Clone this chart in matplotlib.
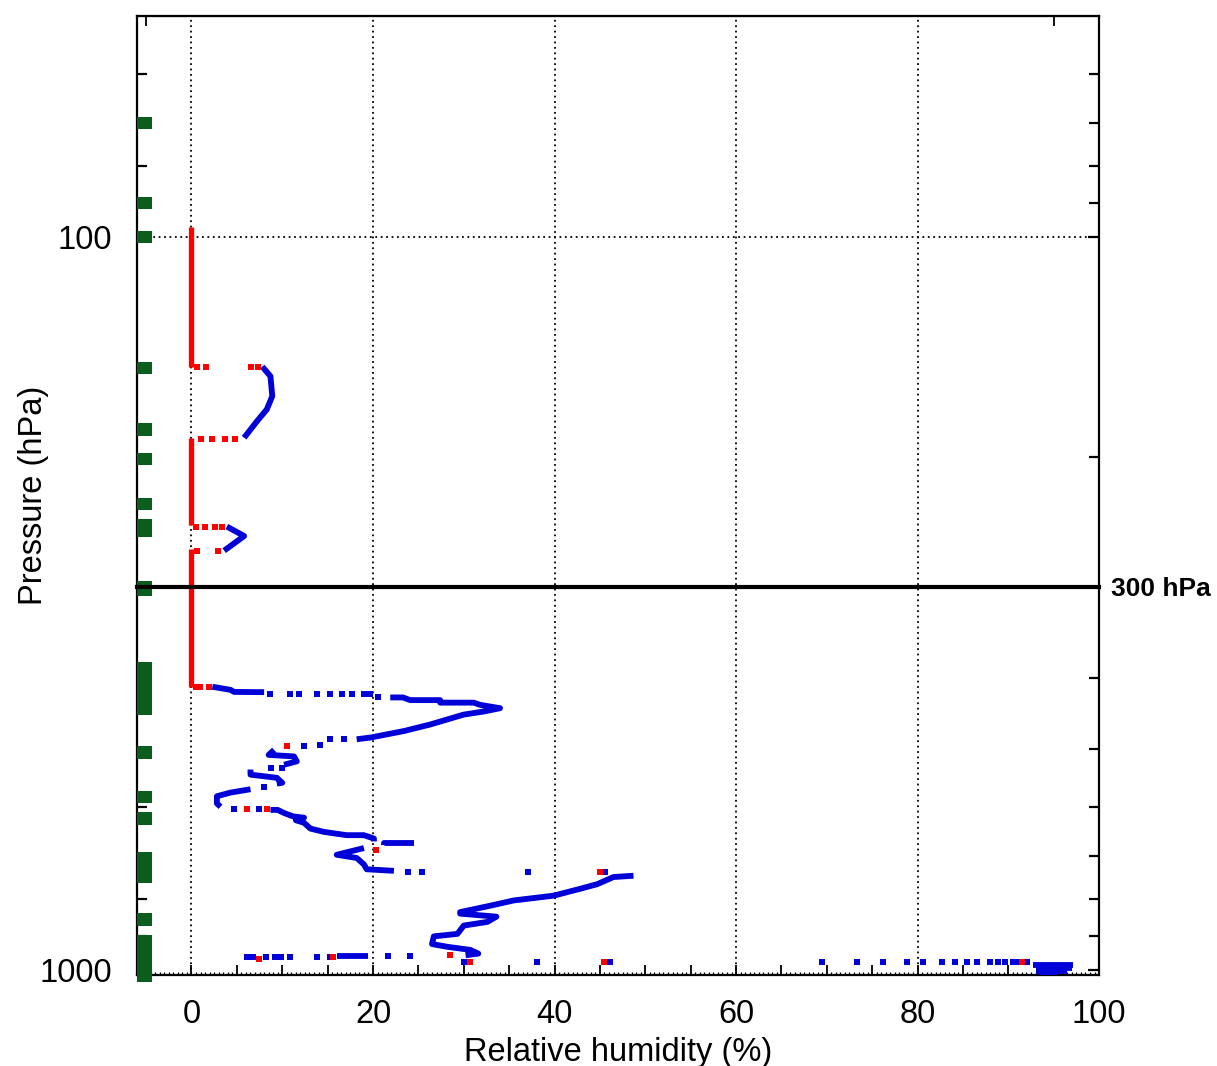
import numpy as np
import matplotlib.pyplot as plt
from matplotlib.ticker import MultipleLocator, FixedLocator, NullFormatter, FuncFormatter
import matplotlib.transforms as mtransforms

plt.rcParams['font.family'] = ['Liberation Sans', 'DejaVu Sans']

# green flag bands on the left edge (hPa, upper and lower end)
flag_top = [68.6, 88.2, 98.1, 148.1, 179.3, 197.1, 227.0, 242.5, 294.7,
            380, 494.8, 570, 609.2, 690.6, 836.4, 895.9]
flag_bot = [71.2, 91.6, 101.9, 153.8, 186.8, 204.6, 235.7, 256.5, 308.8,
            449, 515.2, 591.7, 634.5, 760.9, 871.1, 1038]

# red RH = 0 stretches (hPa)
red_top = [97, 188, 267]
red_bot = [150.4, 247, 411]

# blue profile, solid parts
blue_rh = [
    [7.8, 8.7, 8.9, 8.3, 7.2, 5.8],
    [3.9, 5.8, 3.6],
    [2.3, 4.3, 4.7, 8.0],
    [21.9, 23.3, 24.1, 27.4, 27.4, 31.1, 31.8, 34.0, 32.2, 30.0, 26.3, 23.4, 19.7, 18.2],
    [9.1, 8.5, 11.3, 11.6, 10.2],
    [6.5, 6.5, 9.4, 10.0, 9.4],
    [6.5, 4.3, 2.8, 2.8, 3.2],
    [8.7, 9.5, 10.2, 11.2, 12.4, 11.5, 12.4, 13.1, 14.6, 17.1, 19.0, 20.1, 20.1],
    [21.2, 21.2, 24.5],
    [19.0, 16.0, 18.2, 19.0, 19.3, 22.3],
    [48.7, 46.5, 44.7, 42.5, 39.9, 35.5, 33.0, 29.6, 29.6, 33.6, 32.6, 30.0, 29.3,
     26.7, 26.5, 28.2, 30.7, 31.6, 30.2],
    [16.0, 19.4],
    [92.7, 97.1],
    [93.0, 97.0],
    [93.0, 96.5],
    [93.5, 95.5],
]
blue_p = [
    [150.4, 155, 165, 172, 178.6, 188],
    [248.5, 256, 268],
    [411, 415, 417.7, 418],
    [425, 425, 428.6, 428.6, 432, 432, 435, 439.6, 444.2, 448.5, 462.7, 472.3, 482.1, 484.6],
    [501, 509, 511.5, 519.5, 525],
    [533, 541.6, 547, 555.7, 557],
    [567, 573, 579.6, 593, 599],
    [605, 605, 611, 617.5, 620, 625, 630, 641.6, 648.3, 655, 655, 662, 668],
    [675, 672, 672],
    [682, 696.6, 703.6, 718, 729, 732.6],
    [744, 747, 764, 777, 792, 804, 817, 834, 838, 846, 860, 870, 893,
     900, 922, 930, 939, 950, 955],
    [958, 958],
    [985, 985],
    [994, 994],
    [1003, 1003],
    [1010, 1010],
]

# isolated blue samples
dot_rh = [8.7, 10.9, 11.8, 13.8, 15.3, 16.6, 17.7, 19.0, 19.7, 20.6,
          16.8, 15.3, 14.2, 12.4, 8.8, 10.0, 8.0, 4.7, 7.4,
          23.9, 25.4, 37.1, 45.6,
          6.1, 6.8, 8.2, 9.2, 9.9, 10.8, 13.8, 15.3, 21.6, 24.1,
          30.0, 38.1, 46.1, 69.5, 73.3, 76.2, 78.8, 80.6, 82.7, 84.1, 85.4,
          86.5, 88.0, 88.9, 89.6, 90.5, 91.0, 92.1]
dot_p = [420.6, 420.6, 420.6, 420.6, 420.6, 420.6, 420.6, 420.6, 420.6, 424,
         484, 485, 493, 495.6, 530, 530, 563, 604, 604,
         734.7, 734.7, 734.7, 734.7,
         960, 960, 960, 960, 960, 960, 960, 960, 958, 958,
         974, 974, 974, 974, 974, 974, 974, 974, 974, 974, 974,
         974, 974, 974, 974, 974, 974, 974]

# isolated red samples
red_rh = [0.6, 1.6, 6.6, 7.3, 1.0, 2.3, 3.7, 4.8, 0.5, 1.5, 2.6, 3.4, 0.6, 2.9,
          0.5, 0.9, 1.9, 10.5, 6.1, 8.3, 20.3, 45.0, 28.5, 7.4, 15.6, 30.7, 45.5, 91.5]
red_p = [150.4, 150.4, 150.4, 150.4, 189, 189, 189, 189, 248.5, 248.5, 248.5, 248.5,
         268.3, 268.3, 411, 411, 411, 495.6, 604, 604, 686, 734.7, 953, 965, 960,
         974, 974, 974]

blue = '#0000d8'
red = '#ff0000'
green = '#0b5d1e'

fig = plt.figure(figsize=(12.17, 10.66), dpi=100)
ax = fig.add_axes([0.1126, 0.0854, 0.7905, 0.8996])
ax.set_yscale('log')
ax.set_xlim(-6, 100)
ax.set_ylim(1016, 50)

dots = (0, (1, 2))
for gx in [0, 20, 40, 60, 80]:
    ax.axvline(gx, color='k', lw=1.3, ls=dots, zorder=1)
ax.axhline(100, color='k', lw=1.3, ls=dots, zorder=1)

ax.vlines(np.zeros(len(red_top)), red_top, red_bot, color=red, lw=3.8, zorder=3)
for xs, ps in zip(blue_rh, blue_p):
    ax.plot(xs, ps, color=blue, lw=4.2, solid_capstyle='butt', zorder=3)
ax.plot(dot_rh, dot_p, 's', color=blue, ms=3.9, mew=0, zorder=3)
ax.plot(red_rh, red_p, 's', color=red, ms=3.9, mew=0, zorder=4)

ax.bar(-5.2, np.array(flag_bot) - np.array(flag_top), bottom=flag_top, width=1.6,
       color=green, zorder=5, clip_on=False)

ax.axhline(300, color='k', lw=3, zorder=6, clip_on=False)
trans = mtransforms.blended_transform_factory(ax.transAxes, ax.transData)
ax.text(1.0125, 300, '300 hPa', transform=trans, ha='left', va='center_baseline',
        fontsize=19, fontweight='bold')

for s in ax.spines.values():
    s.set_linewidth(1.6)

# x ticks
ax.xaxis.set_major_locator(MultipleLocator(5))
ax.xaxis.set_minor_locator(MultipleLocator(0.5))
ax.xaxis.set_major_formatter(FuncFormatter(lambda v, pos: f'{v:.0f}' if v % 20 == 0 else ''))
ax.tick_params(axis='x', which='major', direction='in', length=7, width=1.3,
               labelsize=23.5, pad=17, top=False)
ax.tick_params(axis='x', which='minor', direction='in', length=2.5, width=0.9, top=False)

# y ticks
ax.yaxis.set_major_locator(FixedLocator([100, 1000]))
ax.yaxis.set_minor_locator(FixedLocator([60, 70, 80, 90, 200, 300, 400, 500, 600, 700, 800, 900]))
ax.yaxis.set_major_formatter(FuncFormatter(lambda v, pos: f'{v:.0f}'))
ax.yaxis.set_minor_formatter(NullFormatter())
ax.tick_params(axis='y', which='major', direction='in', length=8, width=1.6,
               labelsize=23.5, pad=18, right=True)
ax.tick_params(axis='y', which='minor', direction='in', length=7, width=1.6, right=True)

top = ax.secondary_xaxis('top')
top.set_xticks([-5, 95])
top.set_xticklabels(['', ''])
top.tick_params(direction='in', length=7, width=1.3)

ax.set_xlabel('Relative humidity (%)', fontsize=23.5)
ax.set_ylabel('Pressure (hPa)', fontsize=23.5)
ax.xaxis.set_label_coords(0.5, -0.065)
ax.yaxis.set_label_coords(-0.092, 0.5)

fig.savefig('out.png', dpi=100)
